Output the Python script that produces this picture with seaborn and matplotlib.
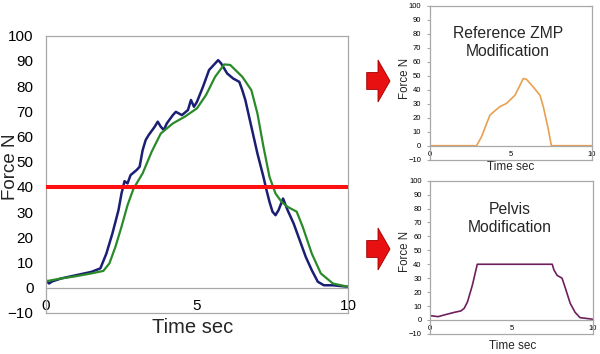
import numpy as np
import pandas as pd
import matplotlib
matplotlib.use("Agg")
import matplotlib.pyplot as plt
import seaborn as sns
from matplotlib.patches import Polygon

# ---------------- data ----------------
blue_t = [0, 0.1, 0.2, 0.5, 1, 1.5, 1.8, 2, 2.2, 2.4, 2.5, 2.6, 2.7, 2.8, 3.0, 3.1, 3.2, 3.3, 3.4,
          3.6, 3.7, 3.8, 3.9, 4.0, 4.2, 4.3, 4.5, 4.7, 4.8, 4.9, 5.0, 5.2, 5.4, 5.6, 5.7, 5.8,
          6.0, 6.2, 6.4, 6.5, 6.6, 6.8, 7.0, 7.2, 7.3, 7.4, 7.5, 7.6, 7.7, 7.85, 8.0, 8.2, 8.4,
          8.6, 8.8, 9.0, 9.2, 9.5, 10]
blue_f = [3, 1.7, 2.5, 3.7, 5, 6.3, 7.7, 13.6, 21.6, 30.8, 37.4, 42.3, 41.4, 44.7, 46.7, 48, 54.6,
          58.6, 60.6, 63.9, 65.9, 63.9, 62.6, 65.2, 68.5, 69.8, 68.5, 70.5, 74.5, 71.8, 73.8, 79.8,
          86.4, 89, 90.3, 89, 85, 83, 81.7, 78.4, 74.5, 63.9, 53.3, 44, 38.8, 34.1, 30.2, 28.8,
          30.8, 35.4, 30.8, 25.5, 18.9, 12.3, 7, 2.4, 1, 1, 0.4]

green_t = [0, 0.5, 1, 1.5, 1.9, 2.1, 2.3, 2.5, 2.7, 2.9, 3.2, 3.5, 3.8, 4.2, 4.6, 5.0, 5.3, 5.6,
           5.9, 6.1, 6.5, 6.8, 7.0, 7.2, 7.4, 7.6, 7.8, 8.0, 8.3, 8.5, 8.8, 9.1, 9.5, 10]
green_f = [2.6, 3.7, 4.6, 5.7, 6.7, 9.7, 16.3, 24.2, 32.8, 39.4, 45.4, 54, 61.2, 65.2, 67.9, 71.2,
           76.5, 83.7, 88.6, 88.4, 83.7, 78.4, 69.2, 56, 44, 37.4, 34.1, 32.1, 30.2, 24.2, 13.6,
           5.7, 1.7, 0.4]

threshold = 40

zmp_t = [0, 2.9, 3.2, 3.72, 4.33, 4.74, 4.95, 5.26, 5.56, 5.77, 5.97, 6.38, 6.8, 7.0, 7.3, 7.5, 10]
zmp_f = [0, 0, 6.4, 21.9, 27.9, 30.2, 32.6, 36, 43, 48, 47.4, 42, 36, 28, 12.4, 0, 0]

pelvis_t = [0, 0.5, 1, 1.5, 1.9, 2.1, 2.3, 2.6, 2.9, 7.5, 7.6, 7.8, 8.1, 8.3, 8.6, 8.9, 9.2, 10]
pelvis_f = [3.1, 2.4, 4, 5.5, 6.5, 8.4, 13, 25, 40, 40, 36, 32, 30, 23, 12, 5.5, 1.7, 0.5]

x_ticks = [0, 5, 10]
y_ticks = list(range(-10, 101, 10))

# ---------------- style ----------------
sns.set_style("white")
plt.rcParams['font.family'] = ['Liberation Sans', 'DejaVu Sans']

W, H = 600, 354
fig = plt.figure(figsize=(W / 100, H / 100), dpi=100)


def add_ax(l, r, t, b):
    return fig.add_axes([l / W, 1 - b / H, (r - l) / W, (b - t) / H])


ax = add_ax(46, 348, 35.7, 313)
ax1 = add_ax(429.5, 592, 5.7, 159.7)
ax2 = add_ax(430, 593, 180.7, 333.9)

GRAY = "#a8a8a8"


def style(a, tick_fs, xpad, ypad, ytick_len):
    a.set_xlim(0, 10)
    a.set_ylim(-10, 100)
    a.set_xticks(x_ticks)
    a.set_yticks(y_ticks)
    for s in ['left', 'top', 'right', 'bottom']:
        a.spines[s].set_color(GRAY)
        a.spines[s].set_linewidth(0.9)
        a.spines[s].set_visible(True)
    a.spines['bottom'].set_position(('data', 0))
    a.axhline(-10, color=GRAY, lw=0.9, clip_on=False, zorder=1)
    a.tick_params(axis='x', length=0, pad=xpad, labelsize=tick_fs, colors='black')
    a.tick_params(axis='y', length=ytick_len, width=0.8, color=GRAY, direction='out',
                  pad=ypad, labelsize=tick_fs, labelcolor='black', left=True)
    a.set_facecolor('white')


# main
df_b = pd.DataFrame({"t": blue_t, "f": blue_f})
df_g = pd.DataFrame({"t": green_t, "f": green_f})
sns.lineplot(data=df_b, x="t", y="f", ax=ax, color="#1b1f73", lw=1.8, estimator=None, sort=False)
sns.lineplot(data=df_g, x="t", y="f", ax=ax, color="#2a8a2a", lw=1.6, estimator=None, sort=False)
ax.axhline(threshold, color="#ff1010", lw=2.9, zorder=3)
style(ax, 11, 8, 9, 0)
ax.set_xlabel("Time sec", fontsize=14.5)
ax.set_ylabel("Force N", fontsize=13.5)
ax.xaxis.label.set_va('center')
ax.yaxis.label.set_va('center')
ax.xaxis.set_label_coords(0.487, -0.054)
ax.yaxis.set_label_coords(-0.118, 0.527)

# top small
df_z = pd.DataFrame({"t": zmp_t, "f": zmp_f})
sns.lineplot(data=df_z, x="t", y="f", ax=ax1, color="#e8a050", lw=1.2, estimator=None, sort=False)
style(ax1, 5.5, 3.5, 4, 2)
ax1.set_xlabel("Time sec", fontsize=8.5)
ax1.set_ylabel("Force N", fontsize=8.3)
ax1.xaxis.label.set_va('center')
ax1.yaxis.label.set_va('center')
ax1.xaxis.set_label_coords(0.497, -0.047)
ax1.yaxis.set_label_coords(-0.149, 0.53)
ax1.text(4.83, 74, "Reference ZMP\nModification", ha='center', va='center',
         fontsize=11.3, linespacing=1.25)

# bottom small
df_p = pd.DataFrame({"t": pelvis_t, "f": pelvis_f})
sns.lineplot(data=df_p, x="t", y="f", ax=ax2, color="#6e1f5c", lw=1.2, estimator=None, sort=False)
style(ax2, 5.5, 3.5, 4, 2)
ax2.set_xlabel("Time sec", fontsize=8.5)
ax2.set_ylabel("Force N", fontsize=8.3)
ax2.xaxis.label.set_va('center')
ax2.yaxis.label.set_va('center')
ax2.xaxis.set_label_coords(0.509, -0.079)
ax2.yaxis.set_label_coords(-0.152, 0.537)
ax2.text(4.9, 73, "Pelvis\nModification", ha='center', va='center',
         fontsize=11.3, linespacing=1.25)


# red arrows (decoration, figure pixel coordinates)
def arrow(yc):
    pts = [(366.7, yc - 8.5), (378, yc - 8.5), (378, yc - 21), (390, yc),
           (378, yc + 21), (378, yc + 8.5), (366.7, yc + 8.5)]
    verts = [(x / W, 1 - y / H) for x, y in pts]
    fig.patches.append(Polygon(verts, closed=True, facecolor="#e81010", edgecolor="#a00000",
                               lw=0.6, transform=fig.transFigure))


arrow(81)
arrow(249)

fig.savefig("out.png", dpi=100)
